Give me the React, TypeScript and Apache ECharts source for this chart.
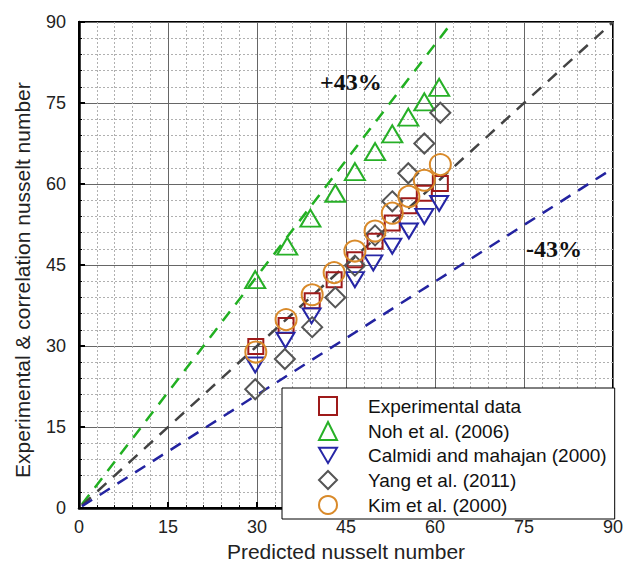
import React, { useEffect, useRef } from "react";
import * as echarts from "echarts";

const xTicks = [0, 15, 30, 45, 60, 75, 90];

const expX = [29.8, 34.9, 39.3, 43.0, 46.5, 49.9, 52.8, 55.6, 58.2, 60.9];
const expY = [29.9, 33.8, 38.4, 42.3, 46.0, 49.4, 52.8, 56.0, 58.3, 60.1];

const nohX = [29.7, 35.1, 39.0, 43.2, 46.5, 49.9, 52.8, 55.5, 58.2, 60.7];
const nohY = [42.3, 48.5, 53.7, 58.3, 62.3, 66.0, 69.3, 72.4, 75.2, 77.9];

const calX = [29.7, 34.8, 39.2, 46.5, 49.6, 52.8, 55.6, 58.2, 60.7];
const calY = [26.5, 31.1, 35.6, 42.3, 45.4, 48.5, 51.3, 54.0, 56.4];

const yangX = [29.7, 34.7, 39.3, 43.2, 46.5, 49.9, 52.8, 55.5, 58.2, 60.9];
const yangY = [22.0, 27.6, 33.5, 39.0, 44.9, 50.5, 56.8, 62.0, 67.5, 73.2];

const kimX = [29.8, 34.9, 39.3, 43.0, 46.5, 49.9, 52.8, 55.6, 58.2, 60.9];
const kimY = [28.9, 34.9, 39.5, 43.6, 47.6, 51.3, 54.6, 57.7, 60.7, 63.6];

const plusLine = [[0.5, 0.7], [62.9, 90]];
const equalLine = [[0.5, 0.5], [90, 90]];
const minusLine = [[0.5, 0.35], [90, 62.9]];

const names = [
  "Experimental data",
  "Noh et al. (2006)",
  "Calmidi and mahajan (2000)",
  "Yang et al. (2011)",
  "Kim et al. (2000)",
];

const zip = (xs: number[], ys: number[]) => xs.map((x, i) => [x, ys[i]]);

const FONT = "Liberation Sans";

export default function App() {
  const ref = useRef<HTMLDivElement>(null);
  useEffect(() => {
    if (!ref.current) return;
    const chart = echarts.init(ref.current, null, { renderer: "svg" });
    const axisCommon = {
      type: "value" as const,
      min: 0,
      max: 90,
      interval: 15,
      axisLine: { show: true, onZero: false, lineStyle: { color: "#000", width: 2.5 } },
      axisTick: { show: true, inside: true, length: 6, lineStyle: { color: "#000", width: 2 } },
      minorTick: { show: true, splitNumber: 5, length: 3, lineStyle: { color: "#000", width: 1 } },
      splitLine: { show: true, lineStyle: { color: "#666", width: 1 } },
      minorSplitLine: { show: true, lineStyle: { color: "#b0b0b0", width: 1, type: [2, 2] } },
      axisLabel: { fontSize: 18, fontFamily: FONT, color: "#222" },
    };
    const lineSeries = (data: number[][], color: string) => ({
      type: "line",
      data,
      symbol: "none",
      silent: true,
      z: 1,
      lineStyle: { color, width: 2.5, type: [12, 9] },
    });
    const scat = (name: string, data: number[][], symbol: string, size: any, color: string) => ({
      type: "scatter",
      name,
      data,
      symbol,
      symbolSize: size,
      z: 3,
      itemStyle: { color: "rgba(255,255,255,0)", borderColor: color, borderWidth: 2, opacity: 1 },
    });
    chart.setOption({
      animation: false,
      backgroundColor: "#fff",
      grid: {
        left: 79,
        right: 14,
        top: 22,
        bottom: 55,
        show: true,
        borderColor: "#000",
        borderWidth: 2,
      },
      xAxis: {
        ...axisCommon,
        name: "Predicted nusselt number",
        nameLocation: "middle",
        nameGap: 25,
        nameTextStyle: { fontSize: 21, fontFamily: FONT, color: "#222" },
        axisLabel: { ...axisCommon.axisLabel, margin: 10 },
        data: xTicks,
      },
      yAxis: {
        ...axisCommon,
        name: "Experimental & correlation nusselt number",
        nameLocation: "middle",
        nameGap: 46,
        nameTextStyle: { fontSize: 21, fontFamily: FONT, color: "#222", padding: [0, 30, 0, 0] },
        axisLabel: { ...axisCommon.axisLabel, margin: 13 },
      },
      legend: {
        data: names,
        orient: "vertical",
        left: 282,
        top: 388,
        backgroundColor: "#fff",
        borderColor: "#000",
        borderWidth: 1,
        borderRadius: 0,
        padding: [8, 8, 4, 36],
        itemGap: 5,
        itemWidth: 18,
        itemHeight: 18,
        z: 10,
        textStyle: { fontSize: 19, fontFamily: FONT, color: "#111", padding: [0, 0, 0, 26] },
      },
      graphic: [
        {
          type: "text",
          left: 320,
          top: 70,
          z: 20,
          style: { text: "+43%", font: 'bold 24px "Liberation Serif"', fill: "#111" },
        },
        {
          type: "text",
          left: 526,
          top: 237,
          z: 20,
          style: { text: "-43%", font: 'bold 24px "Liberation Serif"', fill: "#111" },
        },
      ],
      series: [
        lineSeries(plusLine, "#22b022"),
        lineSeries(equalLine, "#444"),
        lineSeries(minusLine, "#2323a0"),
        scat(names[0], zip(expX, expY), "rect", 15, "#9e1a1a"),
        scat(names[1], zip(nohX, nohY), "triangle", [20, 17], "#27b027"),
        scat(names[2], zip(calX, calY), "path://M0,0 L20,0 L10,17 Z", [18, 15], "#2626a6"),
        scat(names[3], zip(yangX, yangY), "diamond", 20, "#555"),
        scat(names[4], zip(kimX, kimY), "circle", 21, "#d98a2a"),
      ],
    });
    return () => chart.dispose();
  }, []);
  return (
    <div
      ref={ref}
      style={{ width: 627, height: 567, position: "absolute", left: 0, top: 0 }}
    />
  );
}
